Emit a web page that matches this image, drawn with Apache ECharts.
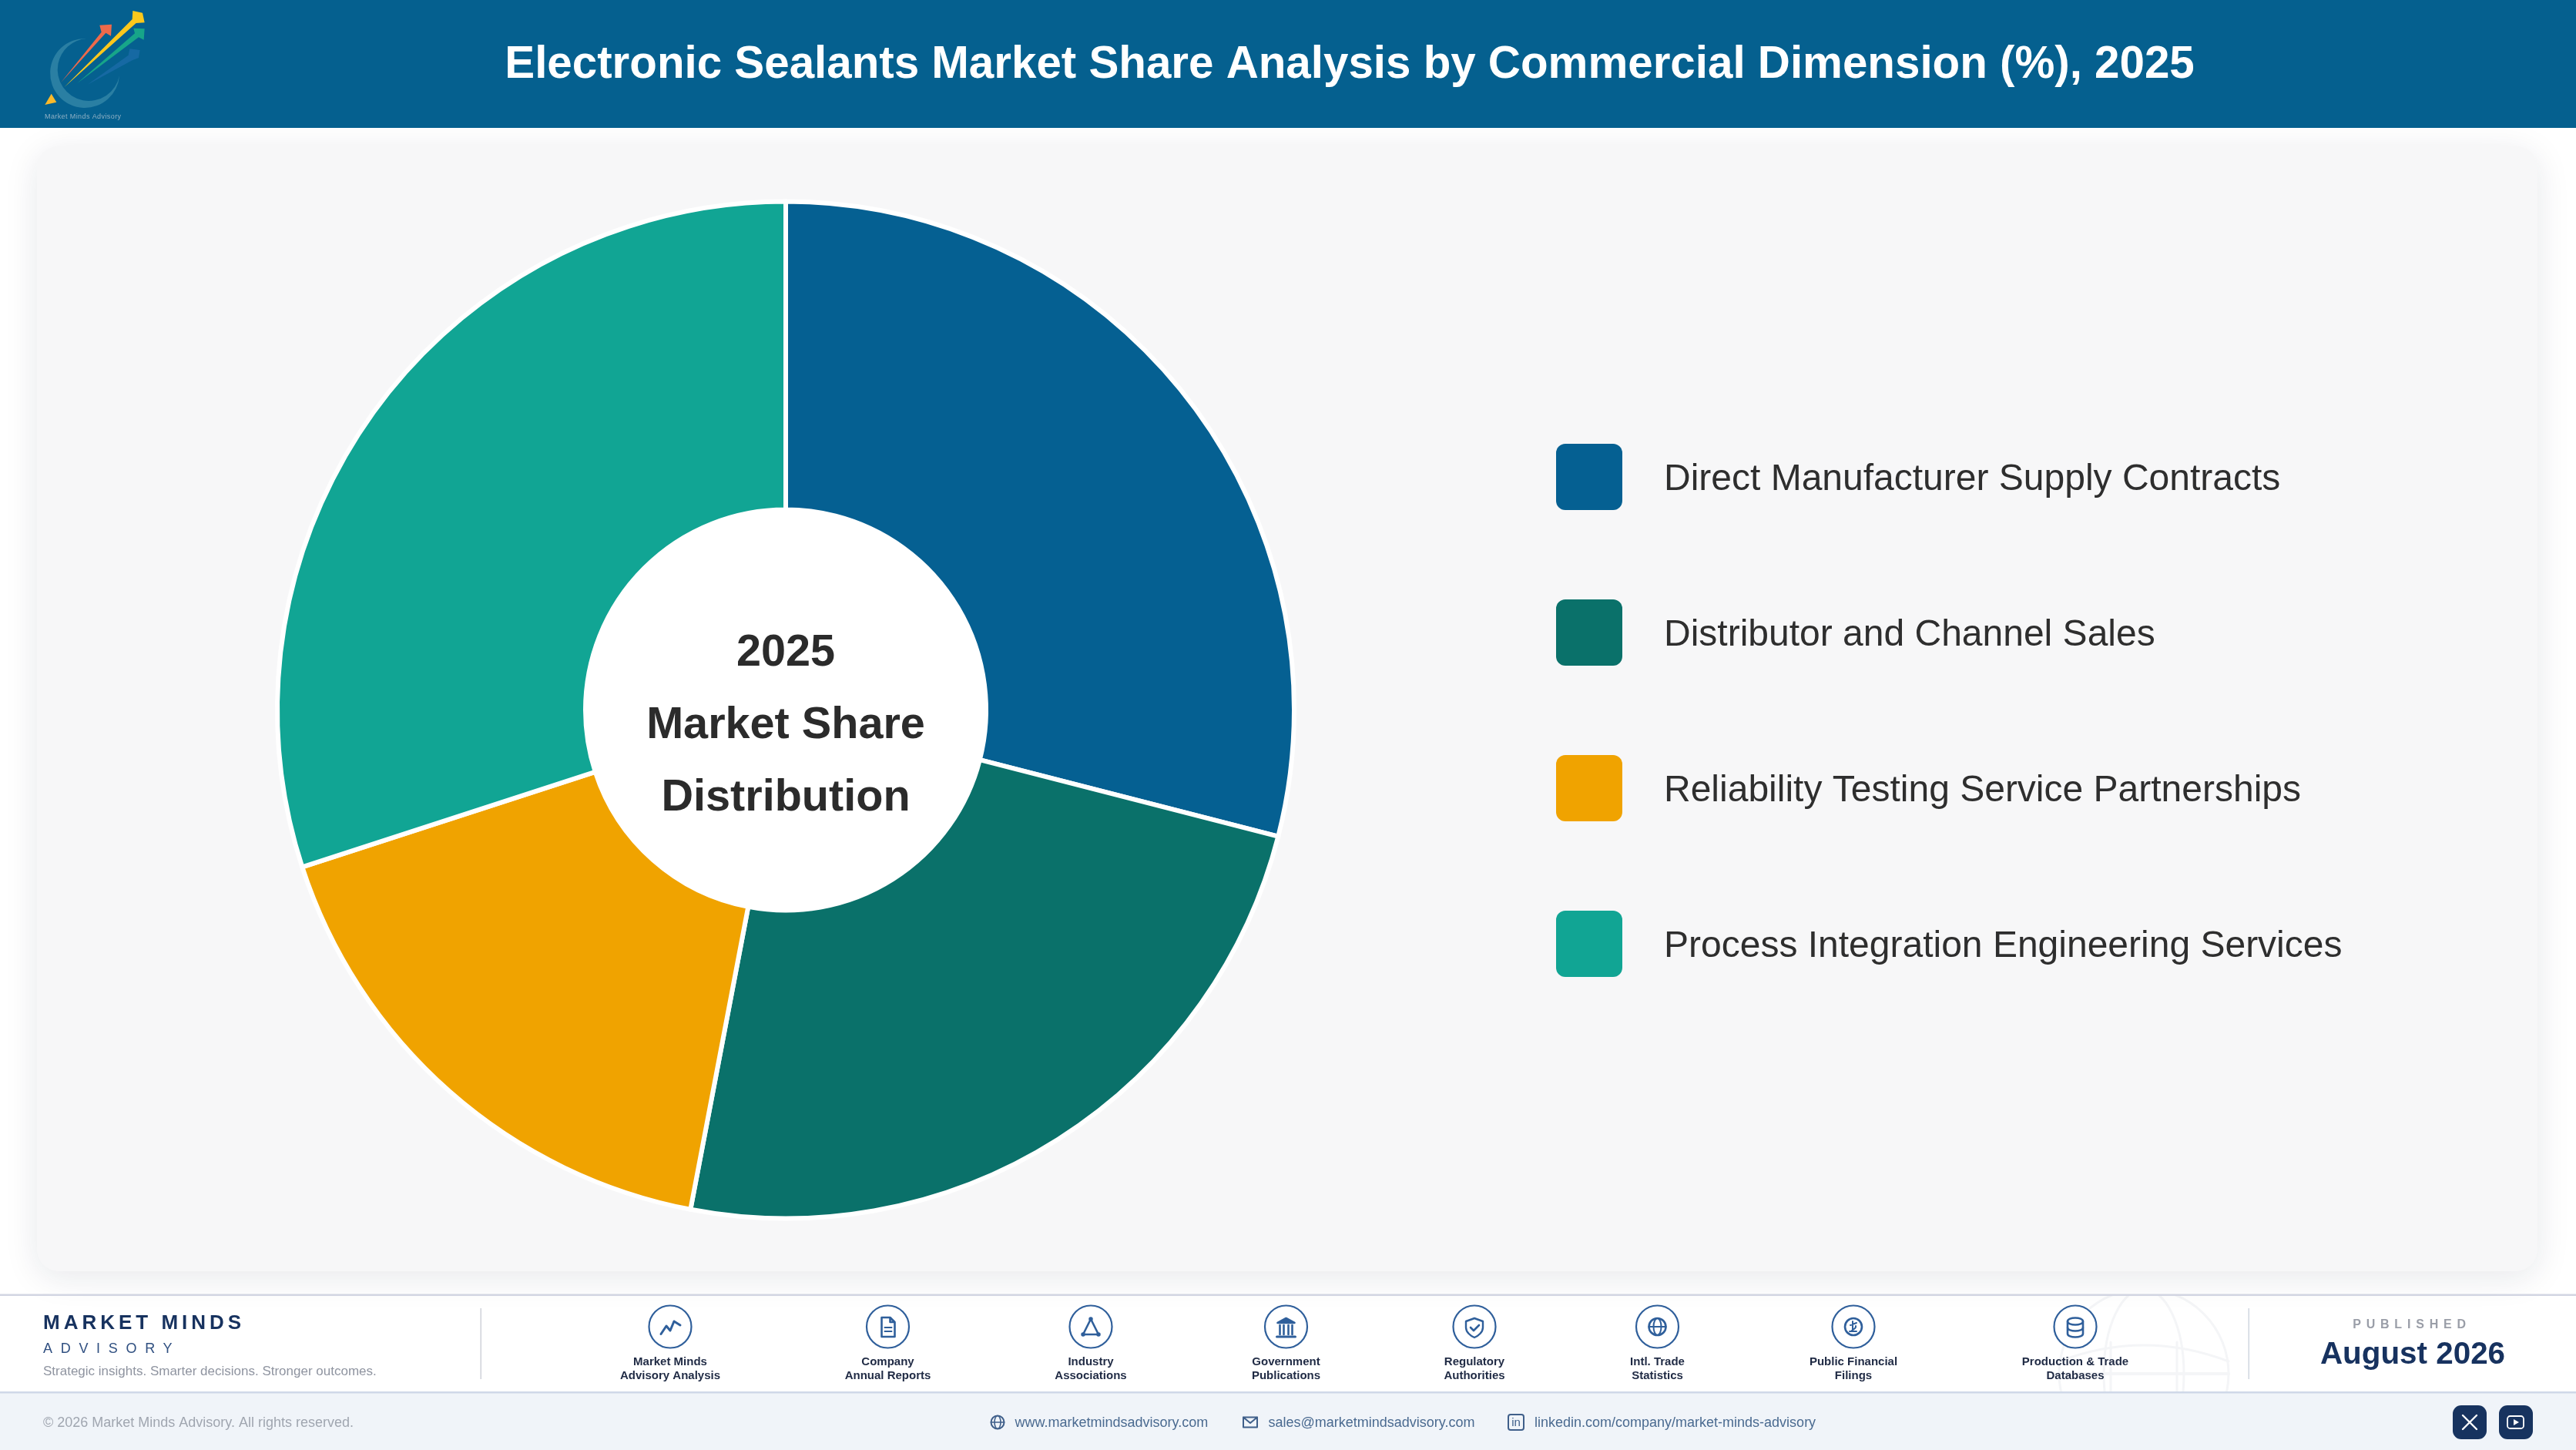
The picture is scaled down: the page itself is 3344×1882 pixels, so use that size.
<!DOCTYPE html>
<html>
<head>
<meta charset="utf-8">
<style>html,body{margin:0;padding:0;background:#fff}#chart{width:3344px;height:1882px}</style>
<script src="https://cdn.jsdelivr.net/npm/echarts@6/dist/echarts.min.js"></script>
</head>
<body>
<div id="chart"></div>
<script>
// ---- data ----
const categories = ['Direct Manufacturer Supply Contracts','Distributor and Channel Sales','Reliability Testing Service Partnerships','Process Integration Engineering Services'];
const shares = [29, 24, 17, 30];
const colors = ['#056092','#0a716a','#f0a300','#11a594'];
const titleText = 'Electronic Sealants Market Share Analysis by Commercial Dimension (%), 2025';
const centerLines = ['2025','Market Share','Distribution'];
const sourceLabels = [['Market Minds','Advisory Analysis'],['Company','Annual Reports'],['Industry','Associations'],['Government','Publications'],['Regulatory','Authorities'],['Intl. Trade','Statistics'],['Public Financial','Filings'],['Production & Trade','Databases']];

// letter-spaced strings (canvas letterSpacing, text stays one string)
const spaced = {'MARKET MINDS':'5px','ADVISORY':'10.7px','PUBLISHED':'6.8px','Market Minds Advisory':'0.4px'};
const origFill = CanvasRenderingContext2D.prototype.fillText;
CanvasRenderingContext2D.prototype.fillText = function(t,x,y,m){
  const ls = spaced[t];
  if(ls){ this.letterSpacing = ls; }
  const r = m===undefined ? origFill.call(this,t,x,y) : origFill.call(this,t,x,y,m);
  if(ls){ this.letterSpacing = '0px'; }
  return r;
};

const FF = '"Liberation Sans"';
const txt = (text,x,y,size,fill,opt={}) => ({type:'text',z:opt.z||20,silent:true,style:{text,x,y,font:(opt.bold?'bold ':'')+size+'px '+FF,fill,
  align:opt.align||'left',verticalAlign:'middle',textAlign:opt.align||'left',textVerticalAlign:'middle',opacity:opt.opacity==null?1:opt.opacity}});
const rect = (x,y,w,h,fill,r,z,extra={}) => ({type:'rect',z,silent:true,shape:{x,y,width:w,height:h,r:r||0},style:Object.assign({fill},extra)});
const poly = (pts,fill,z,op=1) => ({type:'polygon',z,silent:true,shape:{points:pts.map(p=>[p[0]/3,p[1]/3])},style:{fill,opacity:op}});
const ICON = '#2f5f9b';
let shapeCount = 0;
const shapeNames = {};
const shapeFor = d => {
  if(!shapeNames[d]){
    const name = 'decor'+(shapeCount++);
    echarts.graphic.registerShape(name, echarts.graphic.extendPath(d,{}));
    shapeNames[d] = name;
  }
  return shapeNames[d];
};
const stroke = (d,x,y,lw,col,fillc,z) => ({type:shapeFor(d),z:z||20,silent:true,x,y,style:{fill:fillc||'none',stroke:col||ICON,lineWidth:lw,lineJoin:'round',lineCap:'round'}});

const graphics = [];
// page + footer backgrounds; globe watermark sits between footer white and upper page
graphics.push(rect(0,1681,3344,126,'#ffffff',0,1));
const GX=2783,GY=1783;
const wm = '#f4f5f7';
graphics.push(stroke('M-110 0A110 110 0 1 0 110 0A110 110 0 1 0 -110 0Z',GX,GY,3,wm,null,2));
graphics.push(stroke('M-52 0A52 110 0 1 0 52 0A52 110 0 1 0 -52 0Z',GX,GY,3,wm,null,2));
graphics.push(stroke('M-110 -16Q0 -58 110 -16',GX,GY,3,wm,null,2));
graphics.push(stroke('M-110 0H110',GX,GY,4,wm,null,2));
graphics.push(stroke('M-43 -41V30M43 -41V30',GX,GY,3,wm,null,2));
graphics.push(rect(0,0,3344,1680,'#ffffff',0,3));
graphics.push(rect(0,1807,3344,75,'#f0f4f9',0,3));
// card
graphics.push(rect(48,190,3246,1460,'#f7f7f8',28,4,{shadowBlur:44,shadowColor:'rgba(20,30,60,0.10)',shadowOffsetY:8}));
// header
graphics.push(rect(0,0,3344,166,'#05608f',0,5));
graphics.push(txt(titleText,1752,85,58.3,'#ffffff',{bold:true,align:'center'}));
// logo
graphics.push(stroke('M112 50A45 45 0 1 0 155 98A40.5 40.5 0 1 1 112 50Z',0,0,0,'none','#2a7fa3',6));
graphics.push(poly([[238,320],[395,125],[388,98],[435,95],[432,140],[412,128]],'#ee6a4b',7));
graphics.push(poly([[250,340],[515,75],[517,42],[555,50],[563,88],[530,90]],'#fcc81c',7));
graphics.push(poly([[300,325],[525,130],[520,110],[563,112],[560,155],[540,145]],'#17a589',7));
graphics.push(poly([[340,330],[500,215],[505,190],[545,195],[540,225],[515,235]],'#1a6ca8',6,.8));
graphics.push(poly([[175,408],[200,365],[220,398]],'#fbb92a',7));
graphics.push(txt('Market Minds Advisory',58,152,9,'#8fb0c4',{z:7}));
// centre hole + text
graphics.push({type:'circle',z:5,silent:true,shape:{cx:1020,cy:921.5,r:263},style:{fill:'#ffffff'}});
centerLines.forEach((t,i)=>graphics.push(txt(t,1020,848.5+i*94,57.6,'#2b2b2b',{bold:true,align:'center'})));
// footer rules
graphics.push(rect(0,1679.5,3344,2.5,'#d2d5e2',0,8));
graphics.push(rect(0,1806,3344,2.5,'#cfd8e8',0,8));
graphics.push(rect(623.5,1698,1.5,92,'#cfd2da',0,8));
graphics.push(rect(2918.5,1698,1.5,92,'#cfd6e0',0,8));
// brand
graphics.push(txt('MARKET MINDS',56,1718,26,'#17325f',{bold:true}));
graphics.push(txt('ADVISORY',56,1751,18,'#2f4f80'));
graphics.push(txt('Strategic insights. Smarter decisions. Stronger outcomes.',56,1780,17,'#8f94a0'));
// sources
const iconX=[870,1152.5,1416,1669.5,1914,2151.5,2406,2694];
const iconPaths=[
 [['M-12 9.5L-5 -1L0 5L5 -7L13 -2',3]],
 [['M-8 -12H3L9 -6V13H-8ZM3 -12V-6H9',2.6],['M-4 1H5M-4 6H5',2]],
 [['M0 -10L-10 10H10Z',2.6],['M-1 -10a1 1 0 1 0 2 0a1 1 0 1 0 -2 0ZM-11 10a1 1 0 1 0 2 0a1 1 0 1 0 -2 0ZM9 10a1 1 0 1 0 2 0a1 1 0 1 0 -2 0Z',3.5]],
 [['M-11 -5L0 -11L11 -5Z',2.6,1],['M-8 -2V10M-3 -2V10M3 -2V10M8 -2V10',2.6],['M-12 13H12',3]],
 [['M0 -11L11 -7V1C11 7 5 12 0 14C-5 12 -11 7 -11 1V-7Z',2.4],['M-5 1L-1 5L6 -2',2.6]],
 [['M-11 0A11 11 0 1 0 11 0A11 11 0 1 0 -11 0Z',2.6],['M-5 0A5 11 0 1 0 5 0A5 11 0 1 0 -5 0ZM-11 0H11',2]],
 [['M-11 0A11 11 0 1 0 11 0A11 11 0 1 0 -11 0Z',2.6],['M-1 -7V5M-4 -2L4 -5M-5 6H4M3 -1C4 3 -1 3 -3 6',2]],
 [['M-10 -7C-10 -13 10 -13 10 -7V9C10 15 -10 15 -10 9Z',2.6],['M-10 -7C-10 -1 10 -1 10 -7M-10 1C-10 7 10 7 10 1',2.4]]
];
sourceLabels.forEach((lines,i)=>{
  const cx=iconX[i];
  graphics.push({type:'circle',z:20,silent:true,shape:{cx,cy:1722,r:27.5},style:{fill:'#fff',stroke:ICON,lineWidth:2.2}});
  iconPaths[i].forEach(p=>graphics.push(stroke(p[0],cx,1722,p[1],ICON,p[2]?ICON:null,21)));
  lines.forEach((t,k)=>graphics.push(txt(t,cx,1768+k*18,15,'#1f2a44',{bold:true,align:'center'})));
});
// published
graphics.push(txt('PUBLISHED',3131,1720,16,'#9a9ea8',{bold:true,align:'center'}));
graphics.push(txt('August 2026',3132,1759,40.4,'#17325f',{bold:true,align:'center'}));
// bottom bar
graphics.push(txt('\u00a9 2026 Market Minds Advisory. All rights reserved.',56,1847,18,'#a0a6b0'));
const CC='#4a6a90', CI='#3f5f8a';
graphics.push(stroke('M-8.5 0A8.5 8.5 0 1 0 8.5 0A8.5 8.5 0 1 0 -8.5 0Z',1295,1846,2,CI));
graphics.push(stroke('M-4 0A4 8.5 0 1 0 4 0A4 8.5 0 1 0 -4 0ZM-8.5 0H8.5',1295,1846,1.6,CI));
graphics.push(txt('www.marketmindsadvisory.com',1317.5,1847,18,CC));
graphics.push(stroke('M-9 -6.5H9V6.5H-9ZM-9 -6.5L0 1L9 -6.5',1623,1846,2,CI));
graphics.push(txt('sales@marketmindsadvisory.com',1646.5,1847,18,CC));
graphics.push({type:'rect',z:20,silent:true,shape:{x:1958,y:1836,width:20,height:20,r:3},style:{fill:'none',stroke:CI,lineWidth:2}});
graphics.push(txt('in',1968,1847,15,CI,{align:'center'}));
graphics.push(txt('linkedin.com/company/market-minds-advisory',1992,1847,18,CC));
graphics.push(rect(3184,1824,44,44,'#17335f',11,20));
graphics.push(rect(3244,1824,44,44,'#17335f',11,20));
graphics.push(stroke('M-9 -9L9 9M9 -9L-9 9',3206,1846,2.4,'#ffffff'));
graphics.push({type:'rect',z:21,silent:true,shape:{x:3255,y:1838,width:21,height:16,r:3.5},style:{fill:'none',stroke:'#ffffff',lineWidth:1.8}});
graphics.push({type:'polygon',z:21,silent:true,shape:{points:[[3263,1842],[3270,1846],[3263,1850]]},style:{fill:'#ffffff'}});

const chart = echarts.init(document.getElementById('chart'),null,{width:3344,height:1882,renderer:'canvas'});
chart.setOption({
  animation:false,
  backgroundColor:'#ffffff',
  color:colors,
  graphic:{elements:graphics},
  legend:{
    orient:'vertical',left:2020,top:576,padding:0,itemWidth:86,itemHeight:86,itemGap:116,
    selectedMode:false,
    icon:'path://M12 0H74A12 12 0 0 1 86 12V74A12 12 0 0 1 74 86H12A12 12 0 0 1 0 74V12A12 12 0 0 1 12 0Z',
    itemStyle:{borderWidth:0},
    formatter:'{t|{name}}',
    textStyle:{fontFamily:FF,fontSize:48,color:'#2e2e2e',padding:[8,0,0,49],
      rich:{t:{fontFamily:FF,fontSize:48,color:'#2e2e2e'}}},
    data:categories
  },
  series:[{
    type:'pie',z:6,center:[1020,921.5],radius:[260,660],startAngle:90,clockwise:true,silent:true,
    label:{show:false},labelLine:{show:false},
    itemStyle:{borderColor:'#ffffff',borderWidth:6},
    data:categories.map((name,i)=>({name,value:shares[i]}))
  }]
});
</script>
</body>
</html>
